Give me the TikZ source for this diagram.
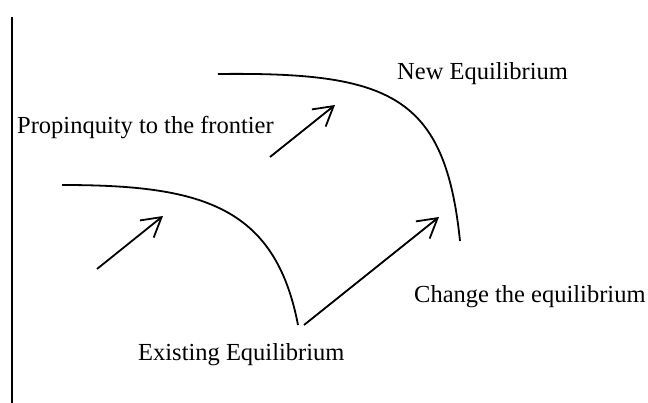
\documentclass[tikz,border=0pt]{standalone}
\usepackage{fontspec}
\setmainfont{Liberation Serif}
\usetikzlibrary{arrows.meta}
\definecolor{ink}{HTML}{000000}
\newcommand{\figfontsize}{\fontsize{24.5}{28}\selectfont}
\tikzset{
  every picture/.style = {font=\figfontsize, line join=round},
  edge/.style          = {line width=1.8pt},
  eqlabel/.style       = {text=ink, inner sep=0pt, anchor=base west},
  movearrow/.style     = {ink, edge, -{Straight Barb[length=19pt, width=22pt, line width=1.8pt]}},
}

\begin{document}
\begin{tikzpicture}[x=1pt, y=-1pt]
  % pixel grid of the original (y runs down)
  \useasboundingbox (0,0) rectangle (648,403);

  % axis on the left
  \draw[ink, edge] (12,17) -- (12,403);

  % the two frontiers
  \draw[ink, edge] (218,74) .. controls (390,72) and (445,95) .. (460,241);
  \draw[ink, edge] (62,185) .. controls (200,185) and (275,205) .. (298,325);

  % arrow ends
  \coordinate (lowtail)  at (97,269);
  \coordinate (lowtip)   at (163,216);
  \coordinate (uptail)   at (270,157);
  \coordinate (uptip)    at (335,105);
  \coordinate (movetail) at (304,325);
  \coordinate (movetip)  at (439,217);
  \draw[movearrow] (lowtail) -- (lowtip);
  \draw[movearrow] (uptail) -- (uptip);
  \draw[movearrow] (movetail) -- (movetip);

  % labels
  \node[eqlabel] (propinq)  at (17,134)  {Propinquity to the frontier};
  \node[eqlabel] (newequ)   at (397,80)  {New Equilibrium};
  \node[eqlabel] (oldequ)   at (138,360) {Existing Equilibrium};
  \node[eqlabel] (change)   at (414,303) {Change the equilibrium};
\end{tikzpicture}
\end{document}
